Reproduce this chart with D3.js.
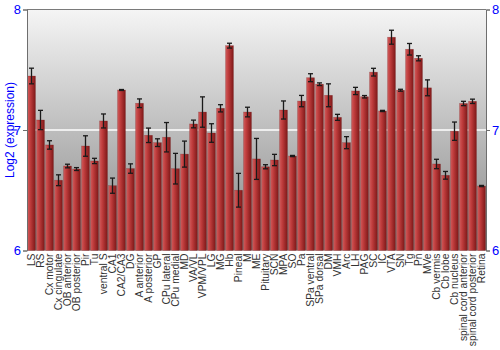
<!DOCTYPE html>
<html><head><meta charset="utf-8">
<script src="https://cdn.jsdelivr.net/npm/d3@7"></script>
<style>body{margin:0;background:#fff}svg{display:block}</style>
</head><body><svg id="c" width="500" height="350"></svg>
<script>
const categories = ["LS","RS","Cx motor","Cx cingulate","OB anterior","OB posterior","Pir","Tu","ventral S","CA1","CA2/CA3","DG","A anterior","A posterior","GP","CPu lateral","CPu medial","MD","VA/VL","VPM/VPL","LG","MG","Hb","Pineal","M","ME","Pituitary","SCN","MPA","SO","Pa","SPa ventral","SPa dorsal","DM","VMH","Arc","LH","PAG","SC","IC","VTA","SN","Tg","Pn","MVe","Cb vermis","Cb lobe","Cb nucleus","spinal cord anterior","spinal cord posterior","Retina"];
const values = [7.448,7.083,6.876,6.583,6.701,6.676,6.867,6.743,7.075,6.538,7.332,6.68,7.222,6.956,6.895,6.94,6.679,6.80,7.05,7.149,6.975,7.18,7.70,6.50,7.149,6.76,6.695,6.751,7.166,6.784,7.24,7.434,7.38,7.288,7.105,6.895,7.324,7.276,7.48,7.158,7.77,7.33,7.67,7.595,7.35,6.718,6.624,6.99,7.22,7.238,6.535];
const errors = [0.065,0.08,0.035,0.045,0.015,0.012,0.085,0.022,0.058,0.063,0.004,0.039,0.036,0.06,0.032,0.122,0.127,0.108,0.032,0.126,0.077,0.03,0.02,0.14,0.04,0.17,0.017,0.047,0.075,0.005,0.047,0.033,0.011,0.095,0.025,0.05,0.03,0.01,0.032,0.005,0.058,0.008,0.048,0.021,0.066,0.039,0.032,0.076,0.018,0.018,0.005];
const yTicks = [6,7,8];
const yTitle = "Log2 (expression)";

const svg = d3.select("#c");
const L = 27, R = 486, T = 9.5, B = 250.5;
const x = d3.scaleBand().domain(categories).range([L, R]).paddingInner(0.12).paddingOuter(0.06);
const y = d3.scaleLinear().domain([6, 8]).range([B, T]);

const defs = svg.append("defs");
const bg = defs.append("linearGradient").attr("id","bg").attr("x1",0).attr("y1",0).attr("x2",0).attr("y2",1);
bg.append("stop").attr("offset","0%").attr("stop-color","#f5f5f5");
bg.append("stop").attr("offset","50%").attr("stop-color","#bdbdbd");
bg.append("stop").attr("offset","100%").attr("stop-color","#878787");
const bar = defs.append("linearGradient").attr("id","bar").attr("x1",0).attr("y1",0).attr("x2",1).attr("y2",0);
bar.append("stop").attr("offset","0%").attr("stop-color","#cf5b5b");
bar.append("stop").attr("offset","35%").attr("stop-color","#bf3c3c");
bar.append("stop").attr("offset","100%").attr("stop-color","#7e1818");

svg.append("rect").attr("x",L).attr("y",T).attr("width",R-L).attr("height",B-T).attr("fill","url(#bg)");

// gridline at 7
svg.append("g").selectAll("line").data(yTicks.filter(d=>d>6 && d<8)).join("line")
  .attr("x1",L).attr("x2",R).attr("y1",d=>y(d)).attr("y2",d=>y(d))
  .attr("stroke","#ffffff").attr("stroke-width",1.5);

// bars
svg.append("g").selectAll("rect").data(categories).join("rect")
  .attr("x",d=>x(d)).attr("width",x.bandwidth())
  .attr("y",(d,i)=>y(values[i])).attr("height",(d,i)=>B - y(values[i]))
  .attr("fill","url(#bar)").attr("stroke","#6a1010").attr("stroke-opacity",0.35).attr("stroke-width",0.6);

// error bars
const eg = svg.append("g").attr("stroke","#1a1a1a").attr("stroke-width",1.3);
categories.forEach((c,i)=>{
  const cx = x(c) + x.bandwidth()/2;
  const y1 = y(values[i]+errors[i]), y2 = y(values[i]-errors[i]);
  eg.append("line").attr("x1",cx).attr("x2",cx).attr("y1",y1).attr("y2",y2);
  eg.append("line").attr("x1",cx-2.5).attr("x2",cx+2.5).attr("y1",y1).attr("y2",y1);
  eg.append("line").attr("x1",cx-2.5).attr("x2",cx+2.5).attr("y1",y2).attr("y2",y2);
});

// top border
svg.append("line").attr("x1",L).attr("x2",R).attr("y1",T).attr("y2",T).attr("stroke","#7a7a7a").attr("stroke-width",1);

// axes
const la = svg.append("g").attr("transform",`translate(${L},0)`).call(d3.axisLeft(y).tickValues(yTicks).tickFormat(d3.format("d")).tickSize(4).tickPadding(2));
const ra = svg.append("g").attr("transform",`translate(${R},0)`).call(d3.axisRight(y).tickValues(yTicks).tickFormat(d3.format("d")).tickSize(4).tickPadding(2));
[la,ra].forEach(a=>{
  a.select(".domain").attr("stroke","#6e6e6e");
  a.selectAll(".tick line").attr("stroke","#6e6e6e");
  a.selectAll("text").attr("fill","#0000ff").style("font-family","Liberation Sans, Arial, sans-serif").style("font-size","13px");
});

// x labels
const xa = svg.append("g").attr("transform",`translate(0,${B})`).call(d3.axisBottom(x).tickSize(0).tickPadding(0));
xa.select(".domain").remove();
xa.selectAll("text")
  .attr("transform","rotate(-90)")
  .attr("text-anchor","end")
  .attr("x",-3).attr("y",0).attr("dy","0.36em")
  .attr("fill","#333")
  .style("font-family","Liberation Sans, Arial, sans-serif").style("font-size","10.3px");

// y title
svg.append("text").attr("transform","translate(14,130) rotate(-90)").attr("text-anchor","middle")
  .attr("fill","#0000ff").style("font-family","Liberation Sans, Arial, sans-serif").style("font-size","12px")
  .text(yTitle);
</script></body></html>
